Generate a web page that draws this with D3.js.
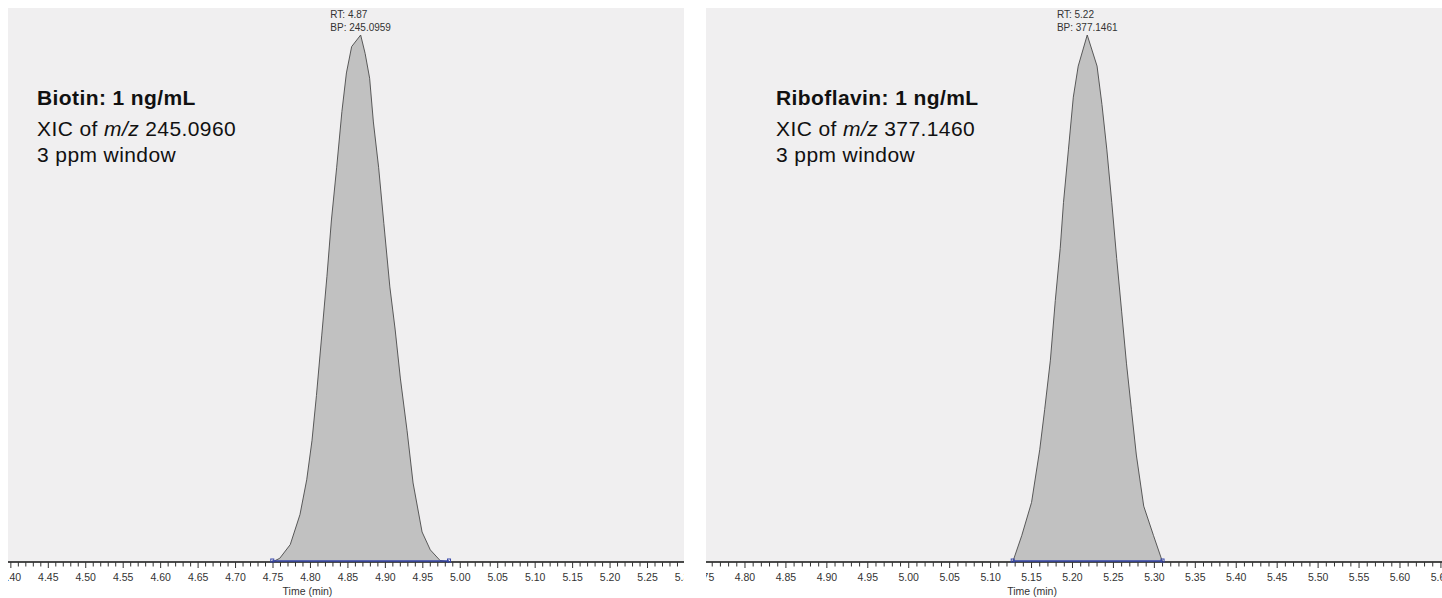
<!DOCTYPE html>
<html>
<head>
<meta charset="utf-8">
<script src="https://cdn.jsdelivr.net/npm/d3@7"></script>
<style>
  body { margin: 0; background: #fff; }
</style>
</head>
<body>
<svg id="chart" width="1442" height="598"></svg>
<script>
// XIC traces (time in min, intensity in % of apex)
const biotinTime = [4.749, 4.759, 4.773, 4.786, 4.795, 4.802, 4.808, 4.815, 4.822, 4.828, 4.835, 4.842, 4.848, 4.855, 4.867,
  4.873, 4.879, 4.884, 4.891, 4.898, 4.906, 4.913, 4.920, 4.929, 4.937, 4.949, 4.960, 4.973, 4.985]
const biotinIntensity = [0, 0.7, 3.3, 9.0, 15.6, 23.0, 31.6, 42.9, 54.2, 64.9, 74.9, 85.5, 92.8, 97.8, 100,
  96.5, 91.8, 83.5, 74.9, 64.2, 52.2, 44.2, 34.9, 24.9, 15.0, 5.7, 2.3, 0.3, 0]

const riboTime = [5.127, 5.138, 5.150, 5.160, 5.166, 5.173, 5.179, 5.185, 5.189, 5.195, 5.201, 5.207, 5.218,
  5.230, 5.236, 5.242, 5.248, 5.254, 5.260, 5.266, 5.272, 5.278, 5.287, 5.299, 5.310]
const riboIntensity = [0, 5.0, 11.3, 21.3, 28.9, 38.3, 49.6, 59.5, 68.2, 78.2, 88.2, 94.1, 100,
  94.1, 86.8, 78.2, 68.2, 57.6, 47.6, 37.6, 28.9, 20.3, 10.6, 5.0, 0]

// labels
const compoundLabels = ['Biotin: 1 ng/mL', 'Riboflavin: 1 ng/mL']
const mzLabels = ['245.0960', '377.1460']
const rtLabels = ['RT: 4.87', 'RT: 5.22']
const bpLabels = ['BP: 245.0959', 'BP: 377.1461']
const timeDomains = [[4.3962, 5.2987], [4.7524, 5.6513]]

// layout
const panels = [
  { x: 8, width: 676, noteX: 37, time: biotinTime, value: biotinIntensity },
  { x: 706, width: 736, noteX: 776, time: riboTime, value: riboIntensity },
]
const plotTop = 8
const axisY = 562
const apexY = 35
const narrow = '"Liberation Sans Narrow", "Arial Narrow", sans-serif'

const svg = d3.select('#chart')
const defs = svg.append('defs')

panels.forEach((p, i) => {
  const xScale = d3.scaleLinear().domain(timeDomains[i]).range([p.x, p.x + p.width])
  const yScale = d3.scaleLinear().domain([0, 100]).range([axisY, apexY])

  const clipId = `clip-${i}`
  defs.append('clipPath').attr('id', clipId)
    .append('rect')
    .attr('x', p.x).attr('y', 0)
    .attr('width', p.width).attr('height', 598)

  const g = svg.append('g').attr('clip-path', `url(#${clipId})`)

  // plot background
  g.append('rect')
    .attr('x', p.x).attr('y', plotTop)
    .attr('width', p.width).attr('height', axisY - plotTop)
    .attr('fill', '#f0eff0')

  // peak
  const pts = p.time.map((t, k) => [t, p.value[k]])
  const area = d3.area()
    .x(d => xScale(d[0]))
    .y0(yScale(0))
    .y1(d => yScale(d[1]))
  g.append('path')
    .datum(pts)
    .attr('d', area)
    .attr('fill', '#c1c1c1')
  g.append('path')
    .datum(pts)
    .attr('d', d3.line().x(d => xScale(d[0])).y(d => yScale(d[1])))
    .attr('fill', 'none')
    .attr('stroke', '#4a4a4a')
    .attr('stroke-width', 0.9)

  // axis line and ticks (labels past the edges get clipped, as in the original)
  g.append('line')
    .attr('x1', p.x).attr('x2', p.x + p.width)
    .attr('y1', axisY).attr('y2', axisY)
    .attr('stroke', '#111').attr('stroke-width', 1.6)

  const [t0, t1] = timeDomains[i]
  const minor = d3.range(Math.floor(t0 * 100) - 1, Math.ceil(t1 * 100) + 2).map(v => v / 100)
  minor.forEach(t => {
    const isMajor = Math.round(t * 100) % 5 === 0
    if (t >= t0 && t <= t1) {
      g.append('line')
        .attr('x1', xScale(t)).attr('x2', xScale(t))
        .attr('y1', axisY).attr('y2', axisY + (isMajor ? 6 : 4.5))
        .attr('stroke', '#333').attr('stroke-width', 1)
    }
    if (isMajor) {
      g.append('text')
        .attr('x', xScale(t)).attr('y', axisY + 19)
        .attr('text-anchor', 'middle')
        .attr('font-family', narrow)
        .attr('font-size', '10.5px').attr('fill', '#333')
        .text(d3.format('.2f')(t))
    }
  })

  // integration baseline with end markers
  const bx1 = xScale(p.time[0])
  const bx2 = xScale(p.time[p.time.length - 1])
  g.append('line')
    .attr('x1', bx1).attr('x2', bx2)
    .attr('y1', axisY - 1).attr('y2', axisY - 1)
    .attr('stroke', '#3646a8').attr('stroke-width', 1.4)
  ;[bx1, bx2].forEach(bx => {
    g.append('rect')
      .attr('x', bx - 1.5).attr('y', axisY - 3)
      .attr('width', 3).attr('height', 3)
      .attr('fill', 'none').attr('stroke', '#3646a8').attr('stroke-width', 1)
  })

  svg.append('text')
    .attr('x', p.x + p.width * 0.443).attr('y', axisY + 33)
    .attr('text-anchor', 'middle')
    .attr('font-family', narrow)
    .attr('font-size', '10.5px').attr('fill', '#333')
    .text('Time (min)')

  // apex label
  const apexIdx = d3.maxIndex(p.value)
  const ax = xScale(p.time[apexIdx])
  const lbl = svg.append('g')
    .attr('font-family', narrow)
    .attr('font-size', '10px').attr('fill', '#333')
  const rt = lbl.append('text').attr('y', 18).text(rtLabels[i])
  const bp = lbl.append('text').attr('y', 31).text(bpLabels[i])
  const w = bp.node().getComputedTextLength()
  rt.attr('x', ax - w / 2)
  bp.attr('x', ax - w / 2)

  // annotation
  const note = svg.append('g')
    .attr('font-family', '"Liberation Sans", Arial, Helvetica, sans-serif')
    .attr('font-size', '21px').attr('letter-spacing', '0.4px')
    .attr('fill', '#111')
  note.append('text')
    .attr('x', p.noteX).attr('y', 105)
    .attr('font-weight', 'bold')
    .text(compoundLabels[i])
  const xic = note.append('text')
    .attr('x', p.noteX).attr('y', 136)
  xic.append('tspan').text('XIC of ')
  xic.append('tspan').attr('font-style', 'italic').text('m/z')
  xic.append('tspan').text(' ' + mzLabels[i])
  note.append('text')
    .attr('x', p.noteX).attr('y', 162)
    .text('3 ppm window')
})
</script>
</body>
</html>
